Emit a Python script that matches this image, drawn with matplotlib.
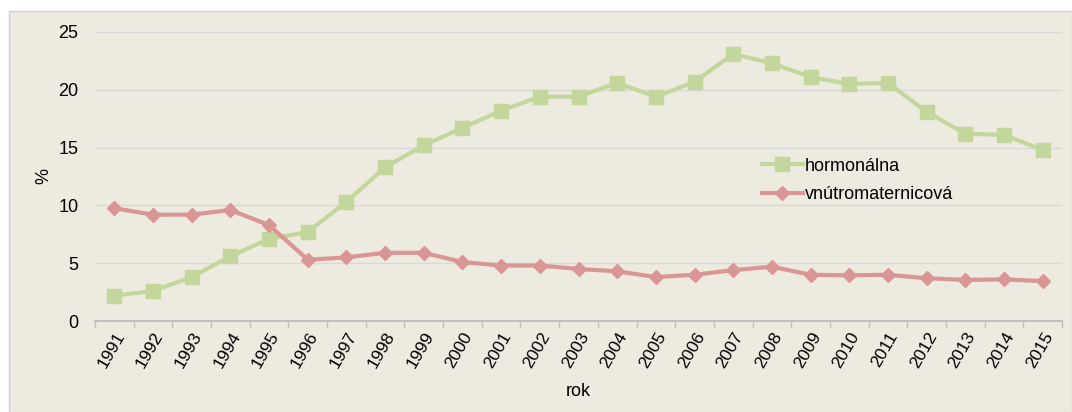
import numpy as np
import matplotlib.pyplot as plt
from matplotlib.patches import Rectangle

plt.rcParams['font.family'] = ['Liberation Sans', 'DejaVu Sans']

years = [str(y) for y in range(1991, 2016)]
hormonalna = [2.2, 2.6, 3.8, 5.6, 7.1, 7.7, 10.3, 13.3, 15.2, 16.7, 18.2, 19.4, 19.4,
              20.6, 19.4, 20.7, 23.1, 22.3, 21.1, 20.5, 20.6, 18.1, 16.2, 16.1, 14.8]
vnutro = [9.75, 9.2, 9.2, 9.6, 8.3, 5.3, 5.5, 5.9, 5.9, 5.1, 4.8, 4.8, 4.5, 4.3, 3.8,
          4.0, 4.4, 4.7, 4.0, 3.95, 4.0, 3.7, 3.55, 3.6, 3.45]

bg = '#EDEAE0'
green = '#C3D69B'
red = '#D99694'

fig = plt.figure(figsize=(10.72, 4.12), dpi=100)
fig.patch.set_facecolor('white')
fig.patches.append(Rectangle((9/1072, 0), 1 - 9/1072, 1 - 11/412, transform=fig.transFigure,
                             facecolor=bg, edgecolor='#D0D0D0', linewidth=1, zorder=-5))

ax = fig.add_axes([95/1072, (412-321)/412, (1062-95)/1072, (321-32)/412])
ax.set_facecolor(bg)
x = np.arange(len(years))
ax.plot(x, hormonalna, color=green, lw=3, marker='s', ms=10, label='hormonálna')
ax.plot(x, vnutro, color=red, lw=3, marker='D', ms=7, label='vnútromaternicová')

ax.set_xlim(-0.5, len(years) - 0.5)
ax.set_ylim(0, 25)
ax.set_yticks(range(0, 26, 5))
ax.set_xticks(x)
ax.set_xticklabels(years, rotation=60, ha='right', rotation_mode='anchor')
ax.set_xticks(np.arange(-0.5, len(years), 1), minor=True)
ax.tick_params(axis='x', which='major', length=0, labelsize=12.5, pad=6)
ax.tick_params(axis='x', which='minor', length=5, color='#BFBFBF', width=1)
ax.tick_params(axis='y', length=0, labelsize=13, pad=12)
ax.grid(axis='y', color='#D9D9D9', lw=1)
ax.set_axisbelow(True)
for s in ['top', 'right', 'left']:
    ax.spines[s].set_visible(False)
ax.spines['bottom'].set_color('#BFBFBF')
ax.spines['bottom'].set_linewidth(1.5)

ax.set_xlabel('rok', fontsize=13, labelpad=9)
ax.set_ylabel('%', fontsize=13, labelpad=4)

ax.legend(loc='upper left', bbox_to_anchor=(0.682, 0.59), frameon=False, fontsize=13,
          handlelength=2.3, handletextpad=0.1, labelspacing=0.62, borderaxespad=0)

fig.savefig('out.png', dpi=100, facecolor=fig.get_facecolor())
